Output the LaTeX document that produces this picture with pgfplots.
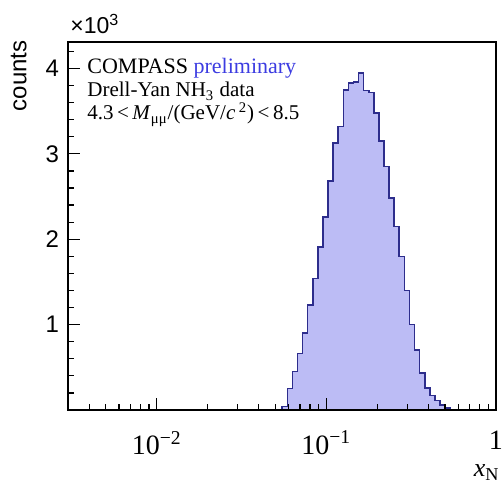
\documentclass[border=0pt]{standalone}
\usepackage{pgfplots}
\pgfplotsset{compat=1.18}
\usepackage{fontspec}
\setmainfont{Liberation Serif}
\setsansfont{Liberation Sans}
\definecolor{histfill}{RGB}{188,188,245}
\definecolor{histline}{RGB}{45,45,140}
\definecolor{prelim}{RGB}{60,60,225}
\begin{document}
\begin{tikzpicture}
\useasboundingbox (-34pt,-40.5pt) rectangle (218pt,205pt);
\begin{axis}[
  at={(0pt,0pt)}, anchor=south west,
  scale only axis, width=214pt, height=184pt,
  xmode=log, xmin=0.003, xmax=1, ymin=0, ymax=4310,
  axis line style={line width=0.8pt},
  tick pos=left, tick align=inside,
  xtick={0.01,0.1,1},
  xticklabels={10\textsuperscript{−2},10\textsuperscript{−1},1},
  minor xtick={0.003,0.004,0.005,0.006,0.007,0.008,0.009,0.02,0.03,0.04,0.05,0.06,0.07,0.08,0.09,0.2,0.3,0.4,0.5,0.6,0.7,0.8,0.9},
  ytick={1000,2000,3000,4000}, yticklabels={1,2,3,4},
  minor ytick={200,400,600,800,1200,1400,1600,1800,2200,2400,2600,2800,3200,3400,3600,3800,4200},
  major tick length=6pt, minor tick length=3pt,
  every tick/.style={black, line width=0.6pt},
  xticklabel style={font=\fontsize{14}{16}\selectfont, yshift=-7pt},
  yticklabel style={font=\sffamily\fontsize{12}{14}\selectfont, xshift=-1pt},
  clip=false, axis on top,
]
\addplot[const plot, fill=histfill, draw=histline, line width=0.8pt] coordinates {
(0.05129,5) (0.05495,40) (0.05888,250) (0.06310,450) (0.06761,660)
(0.07244,900) (0.07762,1230) (0.08318,1540) (0.08913,1910) (0.09550,2260)
(0.10233,2680) (0.10965,3130) (0.11749,3320) (0.12589,3750) (0.13490,3830)
(0.14454,3840) (0.15488,3950) (0.16596,3740) (0.17783,3720) (0.19055,3480)
(0.20417,3150) (0.21878,2850) (0.23442,2480) (0.25119,2150) (0.26915,1800)
(0.28840,1400) (0.30903,1000) (0.33113,700) (0.35481,430) (0.38019,260)
(0.40738,170) (0.43652,110) (0.46774,60) (0.50119,20) (0.53703,5) (0.57544,0)
} \closedcycle;
\node[anchor=base west, inner sep=0pt, font=\fontsize{11}{13}\selectfont] at ([xshift=9.5pt,yshift=-16pt]rel axis cs:0,1) {COMPASS \textcolor{prelim}{preliminary}};
\node[anchor=base west, inner sep=0pt, font=\fontsize{10.5}{12}\selectfont] at ([xshift=9.5pt,yshift=-27.5pt]rel axis cs:0,1) {Drell-Yan NH\textsubscript{3} data};
\node[anchor=base west, inner sep=0pt, font=\fontsize{10.5}{12}\selectfont] at ([xshift=9.5pt,yshift=-39pt]rel axis cs:0,1) {4.3\,<\,\textit{M}\textsubscript{μμ}/(GeV/\textit{c}\,\textsuperscript{2})\,<\,8.5};
\node[anchor=base west, inner sep=0pt, font=\sffamily\fontsize{11.5}{13}\selectfont] at ([xshift=1pt,yshift=4pt]rel axis cs:0,1) {×10\textsuperscript{3}};
\node[rotate=90, anchor=south east, inner sep=0pt, font=\sffamily\fontsize{12}{14}\selectfont] at ([xshift=-20.5pt,yshift=1pt]rel axis cs:0,1) {counts};
\node[anchor=base east, inner sep=0pt, font=\fontsize{13}{15}\selectfont] at ([xshift=2pt,yshift=-33.5pt]rel axis cs:1,0) {\textit{x}\textsubscript{N}};
\end{axis}
\end{tikzpicture}
\end{document}
